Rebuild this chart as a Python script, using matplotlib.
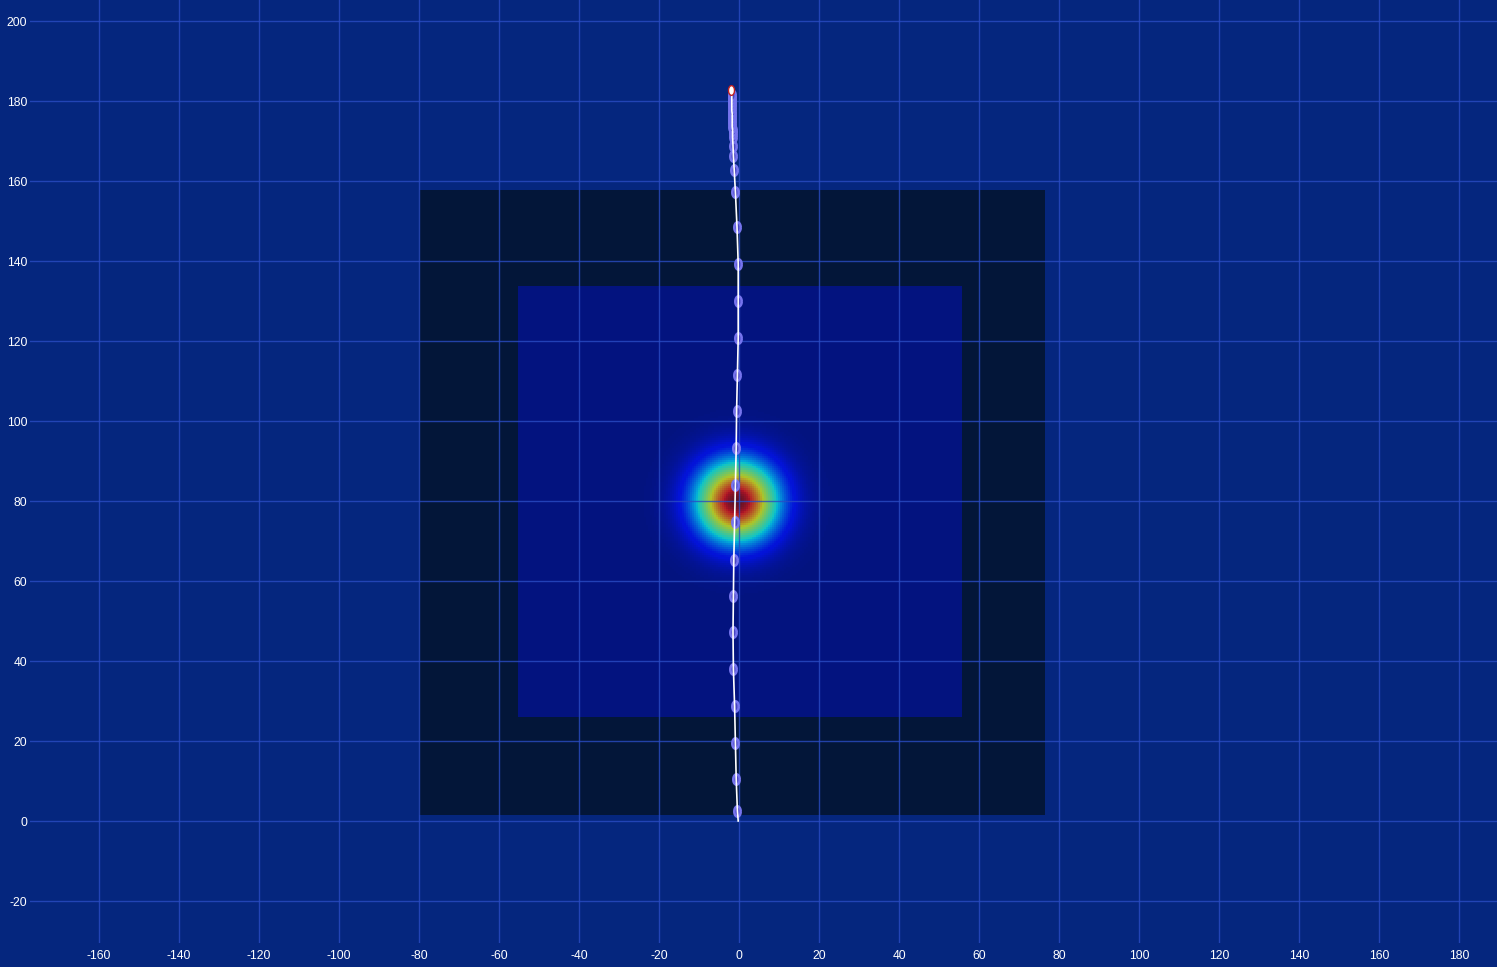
import numpy as np
import matplotlib
matplotlib.use("Agg")
import matplotlib.pyplot as plt
from matplotlib.patches import Rectangle
from matplotlib.colors import ListedColormap

plt.rcParams["axes.unicode_minus"] = False

# track points (x, y)
track_x = [-0.2, -0.4, -0.7, -0.9, -1.1, -1.4, -1.5, -1.4, -1.3, -1.1, -0.9, -0.7, -0.6,
           -0.4, -0.2, -0.2, -0.2, -0.5, -0.9, -1.2, -1.4, -1.5,
           -1.6, -1.6, -1.6, -1.7, -1.7, -1.7, -1.7, -1.7, -1.8, -1.8, -1.8, -1.8, -1.8, -1.8, -1.9]
track_y = [0.0, 2.5, 10.5, 19.5, 28.75, 38.0, 47.25, 56.25, 65.25, 74.75, 84.0, 93.25, 102.5,
           111.5, 120.75, 130.0, 139.25, 148.5, 157.25, 162.75, 166.25, 168.75,
           171.0, 172.0, 172.8, 173.6, 174.4, 175.2, 176.0, 176.8, 177.6, 178.4, 179.2,
           180.0, 180.8, 181.6, 182.75]

# zones
outer_zone = (-80.0, 1.5, 76.5, 157.75)     # x0, y0, x1, y1
inner_zone = (-55.25, 26.0, 55.75, 133.75)
hot_center = (-0.5, 80.0)
hot_sigma = 7.0

x_ticks = list(range(-160, 181, 20))
y_ticks = list(range(-20, 201, 20))

bg = "#05267e"
fig = plt.figure(figsize=(14.97, 9.67), dpi=100, facecolor=bg)
ax = fig.add_axes([30 / 1497, 24 / 967, 1467 / 1497, 943 / 967])
ax.set_facecolor(bg)

# dark outer square
ox0, oy0, ox1, oy1 = outer_zone
ax.add_patch(Rectangle((ox0, oy0), ox1 - ox0, oy1 - oy0, facecolor="#031639",
                       edgecolor="none", zorder=1))

# muted jet colormap (jet seen through a blue haze)
jet = plt.get_cmap("jet")(np.linspace(0, 1, 256))
jet[:, :3] = jet[:, :3] * 0.7 + np.array([0.015, 0.075, 0.15])
heat_cmap = ListedColormap(jet)

# heat map over inner square
ix0, iy0, ix1, iy1 = inner_zone
gx = np.arange(ix0, ix1, 0.5) + 0.25
gy = np.arange(iy0, iy1, 0.5) + 0.25
GX, GY = np.meshgrid(gx, gy)
heat = np.exp(-((GX - hot_center[0]) ** 2 + (GY - hot_center[1]) ** 2) / (2 * hot_sigma ** 2))
ax.imshow(heat, cmap=heat_cmap, vmin=0, vmax=1, origin="lower", extent=[ix0, ix1, iy0, iy1],
          interpolation="nearest", aspect="auto", zorder=1.2)

# grid on top of zones
ax.set_xticks(x_ticks)
ax.set_yticks(y_ticks)
ax.grid(True, color="#2a4cc4", linewidth=1.0, alpha=0.8, zorder=1.5)
ax.set_axisbelow(False)
for gl in ax.get_xgridlines() + ax.get_ygridlines():
    gl.set_zorder(1.5)

# track markers and line
ell = [(np.cos(t) * 0.62, np.sin(t)) for t in np.linspace(0, 2 * np.pi, 30)]
ax.plot(track_x[1:-1], track_y[1:-1], linestyle="none", marker=ell, markersize=7.5,
        markerfacecolor="#4644c0", markeredgecolor="#7674ee", markeredgewidth=1.8, zorder=3)
ax.plot(track_x, track_y, color="white", linewidth=1.2, zorder=4)
# end point marker
ax.plot(track_x[-1], track_y[-1], linestyle="none", marker=ell, markersize=7,
        markerfacecolor="white", markeredgecolor="#c02020", markeredgewidth=1.0, zorder=5)

ax.set_xlim(-177.25, 189.5)
ax.set_ylim(-30.5, 205.25)

for s in ax.spines.values():
    s.set_visible(False)
ax.tick_params(axis="both", length=0, colors="white", labelsize=8.7)
ax.tick_params(axis="y", pad=2)
ax.tick_params(axis="x", pad=5)
for lab in ax.get_xticklabels() + ax.get_yticklabels():
    lab.set_fontfamily("Liberation Sans")

fig.savefig("out.png", dpi=100, facecolor=bg)
